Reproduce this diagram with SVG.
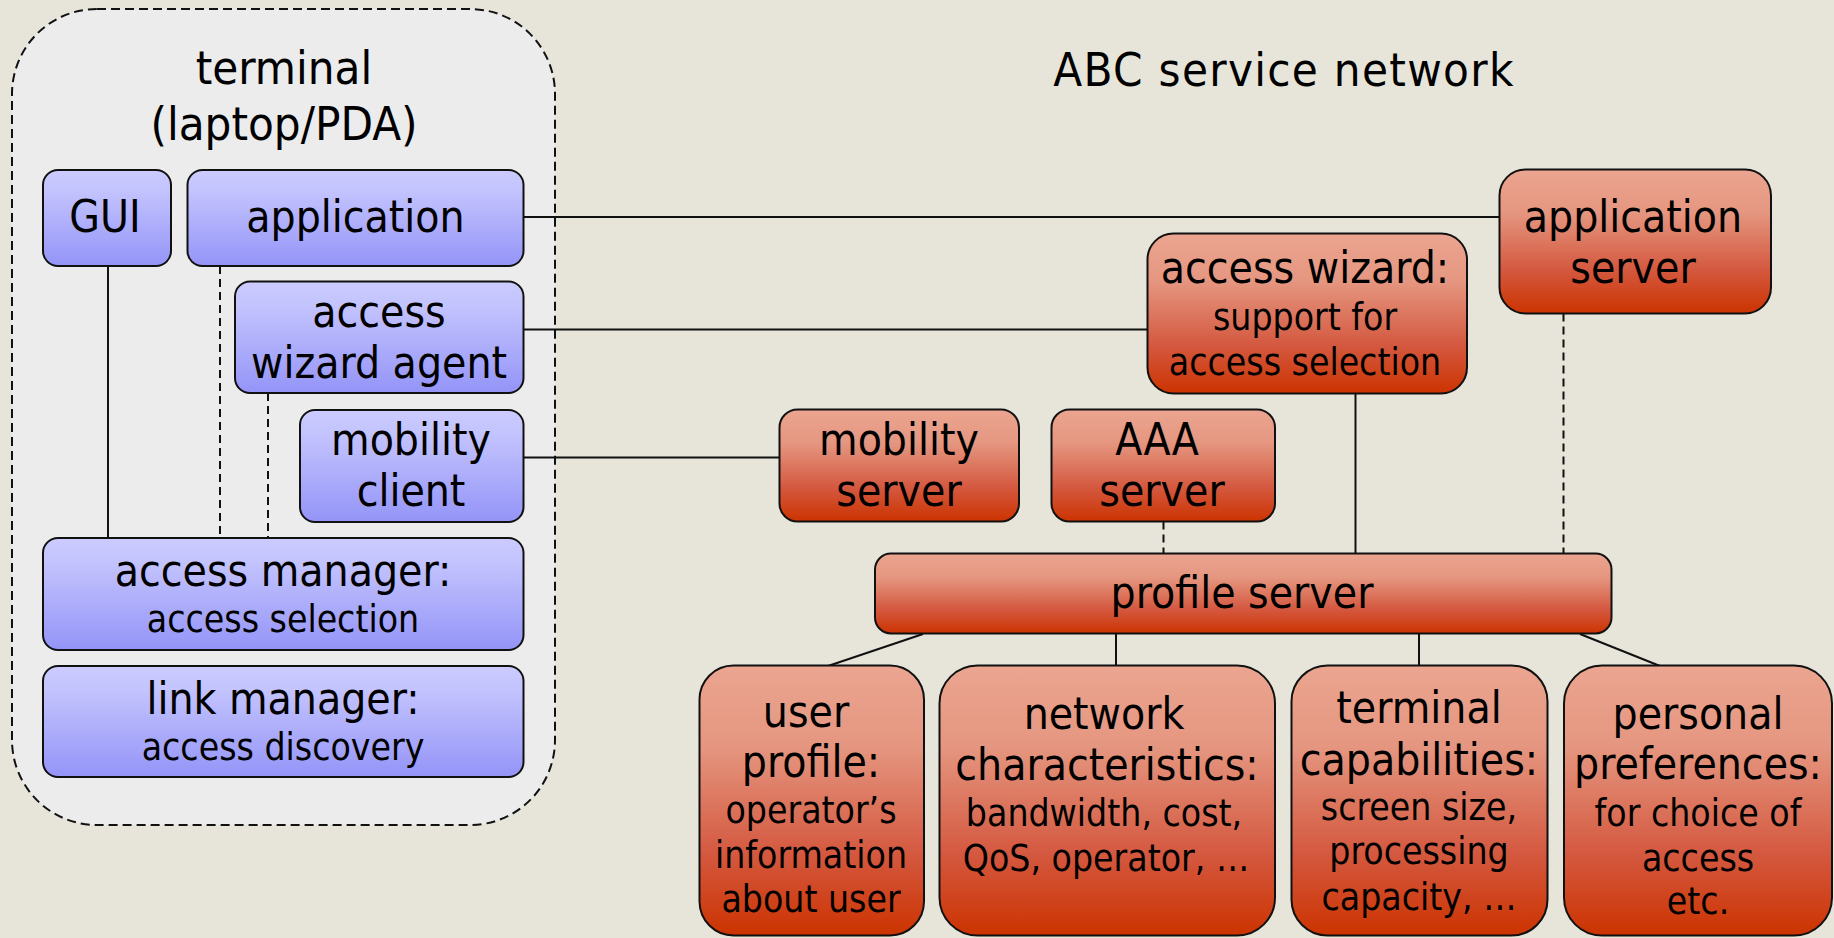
<svg xmlns="http://www.w3.org/2000/svg" width="1834" height="938" viewBox="0 0 1834 938">
<defs>
<linearGradient id="blue" x1="0" y1="0" x2="0" y2="1">
<stop offset="0" stop-color="#CBCBFF"/>
<stop offset="0.2" stop-color="#C4C4FE"/>
<stop offset="1" stop-color="#9494F8"/>
</linearGradient>
<linearGradient id="red" x1="0" y1="0" x2="0" y2="1">
<stop offset="0" stop-color="#EBA590"/>
<stop offset="0.3" stop-color="#E59680"/>
<stop offset="0.7" stop-color="#D4583F"/>
<stop offset="1" stop-color="#CC3300"/>
</linearGradient>
<style>
text{font-family:"DejaVu Sans Condensed","DejaVu Sans",sans-serif;fill:#000;text-anchor:middle}
.t{font-size:47px}
.l{font-size:44px}
.s{font-size:37px}
.b{fill:url(#blue);stroke:#111;stroke-width:2}
.r{fill:url(#red);stroke:#111;stroke-width:2}
.c{fill:none;stroke:#111;stroke-width:2}
.d{fill:none;stroke:#111;stroke-width:2;stroke-dasharray:8 5}
</style>
</defs>
<rect x="0" y="0" width="1834" height="938" fill="#E7E5DA"/>
<g id="terminal">
<rect x="12" y="9" width="543" height="816" rx="85" fill="#ECECEC" stroke="#111" stroke-width="2" stroke-dasharray="9 5"/>
<text class="t" x="284" y="84">terminal</text>
<text class="t" x="284" y="140">(laptop/PDA)</text>
</g>
<g id="network-title">
<text class="t" x="1284" y="86" letter-spacing="1.3">ABC service network</text>
</g>
<g id="connectors">
<path class="c" d="M523.5 217H1499.5"/>
<path class="c" d="M523.5 329.5H1147.5"/>
<path class="c" d="M523.5 457.5H779.5"/>
<path class="c" d="M108 266V538"/>
<path class="d" d="M220 266V538"/>
<path class="d" d="M268 393V538"/>
<path class="c" d="M1355.5 393.5V553.5"/>
<path class="d" d="M1563.5 313.5V553.5"/>
<path class="d" d="M1163.5 521.5V553.5"/>
<path class="c" d="M923 634L828 666"/>
<path class="c" d="M1116 633.5V665.5"/>
<path class="c" d="M1419 633.5V665.5"/>
<path class="c" d="M1580 634L1660 666"/>
</g>
<g id="gui">
<rect class="b" x="43" y="170" width="128" height="96" rx="15"/>
<text class="l" x="105" y="232">GUI</text>
</g>
<g id="application">
<rect class="b" x="187.5" y="170" width="336" height="96" rx="15"/>
<text class="l" x="355.5" y="232">application</text>
</g>
<g id="access-wizard-agent">
<rect class="b" x="235" y="281.5" width="288.5" height="111.5" rx="15"/>
<text class="l" x="379" y="327">access</text>
<text class="l" x="379" y="378">wizard agent</text>
</g>
<g id="mobility-client">
<rect class="b" x="300" y="410" width="223.5" height="112" rx="15"/>
<text class="l" x="411" y="455">mobility</text>
<text class="l" x="411" y="506">client</text>
</g>
<g id="access-manager">
<rect class="b" x="43" y="538" width="480.5" height="112" rx="15"/>
<text class="l" x="283" y="586">access manager:</text>
<text class="s" x="283" y="632">access selection</text>
</g>
<g id="link-manager">
<rect class="b" x="43" y="666" width="480.5" height="111" rx="15"/>
<text class="l" x="283" y="714">link manager:</text>
<text class="s" x="283" y="760">access discovery</text>
</g>
<g id="application-server">
<rect class="r" x="1499.5" y="169.5" width="271.5" height="144" rx="26"/>
<text class="l" x="1633" y="232">application</text>
<text class="l" x="1633" y="283">server</text>
</g>
<g id="access-wizard">
<rect class="r" x="1147.5" y="233.5" width="319.5" height="160" rx="26"/>
<text class="l" x="1305" y="283">access wizard:</text>
<text class="s" x="1305" y="330">support for</text>
<text class="s" x="1305" y="375">access selection</text>
</g>
<g id="mobility-server">
<rect class="r" x="779.5" y="409.5" width="239.5" height="112" rx="18"/>
<text class="l" x="899" y="455">mobility</text>
<text class="l" x="899" y="506">server</text>
</g>
<g id="aaa-server">
<rect class="r" x="1051.5" y="409.5" width="223.5" height="112" rx="18"/>
<text class="l" x="1157" y="455">AAA</text>
<text class="l" x="1162" y="506">server</text>
</g>
<g id="profile-server">
<rect class="r" x="875" y="553.5" width="736.5" height="80" rx="16"/>
<text class="l" x="1242" y="608">profile server</text>
</g>
<g id="user-profile">
<rect class="r" x="699.5" y="665.5" width="224.5" height="270" rx="34"/>
<text class="l" x="806" y="727">user</text>
<text class="l" x="811" y="777">profile:</text>
<text class="s" x="811" y="823">operator’s</text>
<text class="s" x="811" y="868">information</text>
<text class="s" x="811" y="912">about user</text>
</g>
<g id="network-characteristics">
<rect class="r" x="939.5" y="665.5" width="335.5" height="270" rx="38"/>
<text class="l" x="1104" y="729">network</text>
<text class="l" x="1107" y="780">characteristics:</text>
<text class="s" x="1104" y="826">bandwidth, cost,</text>
<text class="s" x="1106" y="871">QoS, operator, …</text>
</g>
<g id="terminal-capabilities">
<rect class="r" x="1291.5" y="665.5" width="256" height="270" rx="36"/>
<text class="l" x="1419" y="723">terminal</text>
<text class="l" x="1419" y="775">capabilities:</text>
<text class="s" x="1419" y="820">screen size,</text>
<text class="s" x="1419" y="864">processing</text>
<text class="s" x="1419" y="910">capacity, …</text>
</g>
<g id="personal-preferences">
<rect class="r" x="1564" y="665.5" width="268" height="270" rx="38"/>
<text class="l" x="1698" y="729">personal</text>
<text class="l" x="1698" y="779">preferences:</text>
<text class="s" x="1698" y="826">for choice of</text>
<text class="s" x="1698" y="871">access</text>
<text class="s" x="1698" y="914">etc.</text>
</g>
</svg>
